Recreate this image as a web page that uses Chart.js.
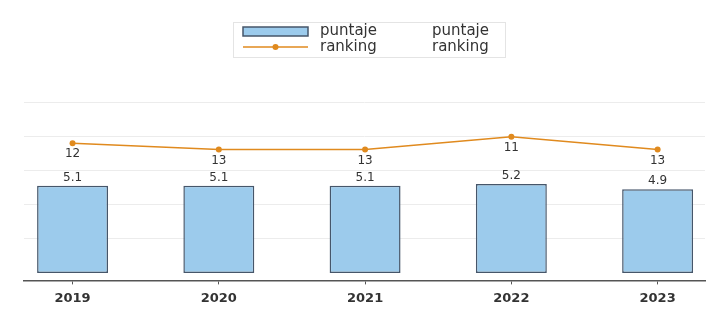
<!DOCTYPE html>
<html>
<head>
<meta charset="utf-8">
<script src="https://cdn.jsdelivr.net/npm/chart.js@4/dist/chart.umd.min.js"></script>
<style>
  html, body { margin: 0; padding: 0; background: #fff; }
  #wrap { width: 712px; height: 321px; }
</style>
</head>
<body>
<div id="wrap"><canvas id="chart"></canvas></div>
<script>
// data
const years = ['2019', '2020', '2021', '2022', '2023'];
const puntaje = [5.1, 5.1, 5.1, 5.2, 4.9];
const ranking = [12, 13, 13, 11, 13];
const legendNames = ['puntaje', 'ranking'];

const barFill = '#9ccbec';
const barEdge = '#46566a';
const lineColor = '#e08a1e';
const textColor = '#333333';

// draws the value labels above bars / under the points
const valueLabels = {
    id: 'valueLabels',
    afterDatasetsDraw(chart) {
        const ctx = chart.ctx;
        ctx.save();
        ctx.fillStyle = textColor;
        ctx.textAlign = 'center';
        ctx.textBaseline = 'middle';
        ctx.font = '12px "DejaVu Sans"';
        chart.getDatasetMeta(0).data.forEach((bar, i) => {
            ctx.fillText(puntaje[i].toFixed(1), bar.x, bar.y - 8);
        });
        chart.getDatasetMeta(1).data.forEach((pt, i) => {
            ctx.fillText(String(ranking[i]), pt.x, pt.y + 11);
        });
        ctx.restore();
    }
};

// legend box with the doubled labels, as in the original
const boxLegend = {
    id: 'boxLegend',
    afterDraw(chart) {
        const ctx = chart.ctx;
        ctx.save();
        ctx.strokeStyle = '#e4e4e4';
        ctx.lineWidth = 1;
        ctx.strokeRect(233.5, 22.5, 272, 35);

        // bar swatch
        ctx.fillStyle = barFill;
        ctx.fillRect(243, 27, 65, 9);
        ctx.strokeStyle = barEdge;
        ctx.lineWidth = 1.5;
        ctx.strokeRect(243, 27, 65, 9);

        // line swatch
        ctx.strokeStyle = lineColor;
        ctx.lineWidth = 1.5;
        ctx.beginPath();
        ctx.moveTo(243, 47);
        ctx.lineTo(308, 47);
        ctx.stroke();
        ctx.fillStyle = lineColor;
        ctx.beginPath();
        ctx.arc(275.5, 47, 3, 0, Math.PI * 2);
        ctx.fill();

        ctx.fillStyle = textColor;
        ctx.font = '15px "DejaVu Sans"';
        ctx.textAlign = 'left';
        ctx.textBaseline = 'middle';
        ctx.fillText(legendNames[0], 320, 31);
        ctx.fillText(legendNames[0], 432, 31);
        ctx.fillText(legendNames[1], 320, 47);
        ctx.fillText(legendNames[1], 432, 47);
        ctx.restore();
    }
};

new Chart(document.getElementById('chart'), {
    data: {
        datasets: [
            {
                type: 'bar',
                label: legendNames[0],
                data: puntaje.map((v, i) => ({ x: i, y: v })),
                backgroundColor: barFill,
                borderColor: barEdge,
                borderWidth: 1.5,
                borderSkipped: false,
                barPercentage: 0.485,
                categoryPercentage: 1,
                yAxisID: 'y',
                order: 2
            },
            {
                type: 'line',
                label: legendNames[1],
                data: ranking.map((v, i) => ({ x: i, y: v })),
                borderColor: lineColor,
                backgroundColor: lineColor,
                borderWidth: 1.5,
                pointRadius: 3,
                pointBorderWidth: 0,
                tension: 0,
                yAxisID: 'y2',
                order: 1
            }
        ]
    },
    options: {
        responsive: true,
        maintainAspectRatio: false,
        animation: false,
        layout: { padding: { top: 102, left: 24, right: 7, bottom: 9 } },
        plugins: {
            legend: { display: false },
            tooltip: { enabled: false }
        },
        scales: {
            x: {
                type: 'linear',
                offset: false,
                min: -0.332,
                max: 4.324,
                afterBuildTicks: (scale) => {
                    scale.ticks = years.map((_, i) => ({ value: i }));
                },
                ticks: {
                    callback: (v) => years[v],
                    color: textColor,
                    font: { family: 'DejaVu Sans', size: 13, weight: 'bold' },
                    padding: 6,
                    maxRotation: 0
                },
                grid: {
                    offset: false,
                    drawOnChartArea: false,
                    drawTicks: true,
                    tickLength: 4,
                    color: '#555'
                },
                border: { display: true, color: '#555', width: 1.5 }
            },
            y: {
                min: -0.44,
                max: 10,
                afterBuildTicks: (scale) => {
                    scale.ticks = [2, 4, 6, 8, 10].map(v => ({ value: v }));
                },
                ticks: { display: false },
                grid: { color: '#ececec', drawTicks: false },
                border: { display: false }
            },
            y2: {
                display: false,
                reverse: true,
                min: 5.45,
                max: 33.85
            }
        }
    },
    plugins: [valueLabels, boxLegend]
});
</script>
</body>
</html>
